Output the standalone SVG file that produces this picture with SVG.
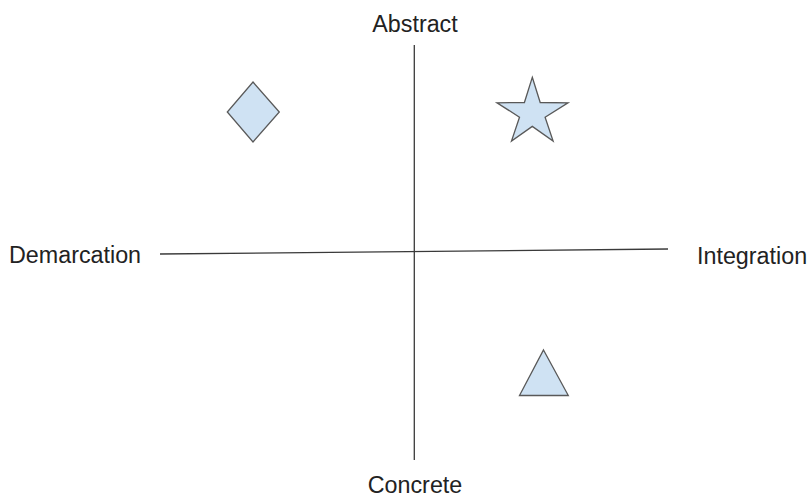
<svg xmlns="http://www.w3.org/2000/svg" width="810" height="497" viewBox="0 0 810 497">
<style>
.lbl{font-family:"Liberation Sans",Arial,sans-serif;font-size:23.3px;fill:#222;}
.shape{fill:#cfe2f3;stroke:#595959;stroke-width:1.3;stroke-linejoin:miter;}
.axis{stroke:#3a3a3a;stroke-width:1.3;fill:none;}
</style>
<rect width="810" height="497" fill="#ffffff"/>
<g id="connectors">
<line class="axis" x1="414.3" y1="45" x2="414.3" y2="460"/>
<line class="axis" x1="160" y1="254" x2="668" y2="249"/>
</g>
<g id="abstract"><text class="lbl" x="415" y="32" text-anchor="middle">Abstract</text></g>
<g id="concrete"><text class="lbl" x="415" y="492.5" text-anchor="middle">Concrete</text></g>
<g id="demarcation"><text class="lbl" x="9" y="263">Demarcation</text></g>
<g id="integration"><text class="lbl" x="697" y="264">Integration</text></g>
<g id="diamond"><polygon class="shape" points="253,82 279.3,112 253,142 227.3,112"/></g>
<g id="star"><polygon class="shape" points="532.3,77.3 540.2,102.5 568,102.8 545.1,117.2 553.1,141 532.3,126.4 511.5,141 519.5,117.2 497,102.8 524.4,102.5"/></g>
<g id="triangle"><polygon class="shape" points="543.5,350 568.3,395.5 519.5,395.5"/></g>
</svg>
